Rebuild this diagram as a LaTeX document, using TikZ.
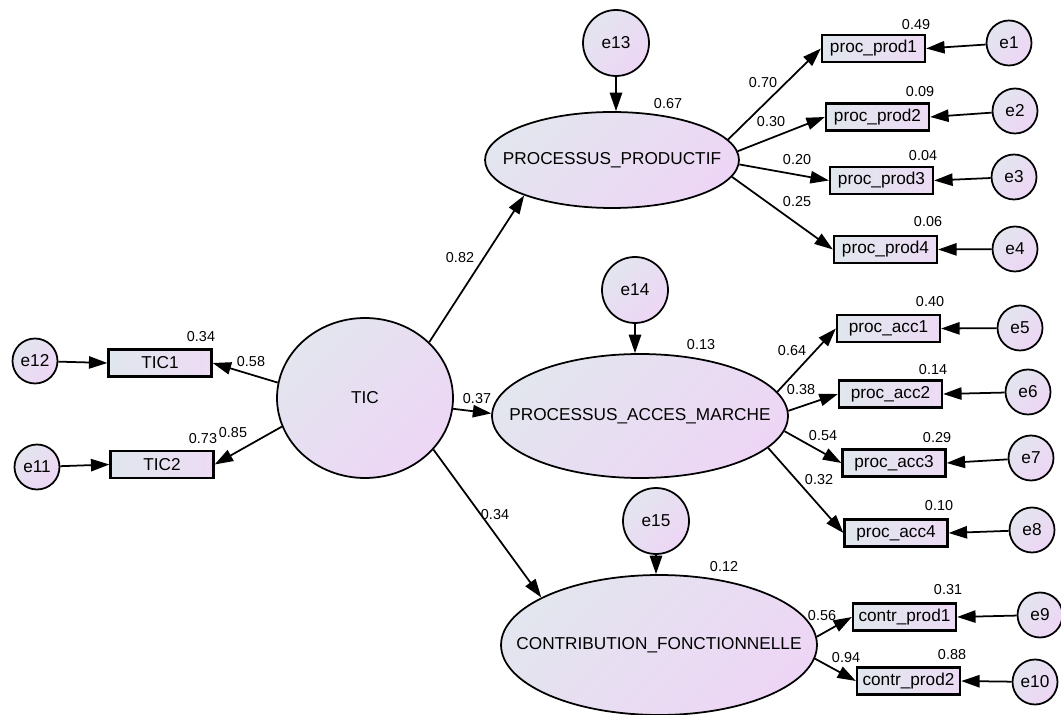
\documentclass[tikz,border=0pt]{standalone}
\usepackage{fontspec}
\setmainfont{Liberation Sans}
\usetikzlibrary{arrows.meta,shapes.geometric,positioning}
\definecolor{fillL}{RGB}{227,229,239}
\definecolor{fillR}{RGB}{237,214,245}
\definecolor{boxL}{RGB}{224,231,237}
\definecolor{boxR}{RGB}{237,219,244}
\def\txtsize{\fontsize{9.8}{11}\selectfont}
\def\coefsize{\fontsize{8.2}{9}\selectfont}
\tikzset{
  latent/.style={ellipse, draw, inner sep=0pt, left color=fillL, right color=fillR, shading angle=45},
  err/.style={circle, draw, inner sep=0pt, minimum size=0.9cm, left color=fillL, right color=fillR, shading angle=45, font=\txtsize},
  bigerr/.style={err, minimum size=1.32cm},
  obs/.style={rectangle, draw, line width=1.3pt, inner sep=0pt, minimum width=2.06cm, minimum height=0.54cm, left color=boxL, right color=boxR, font=\txtsize},
  coef/.style={inner sep=0pt, font=\coefsize},
}

\begin{document}
\begin{tikzpicture}[x=0.02cm, y=-0.02cm, line width=1pt, >={Triangle[length=10.5pt,width=7pt]}]
    \useasboundingbox (0,0) rectangle (1061,715);
    % Latent variables
    \node[latent, minimum width=3.52cm, minimum height=3.2cm, label={[name=tictxt, font=\txtsize]center:TIC}] (tic) at (365,398) {};
    \node[latent, minimum width=5.08cm, minimum height=1.92cm, label={[name=prodtxt, font=\txtsize]center:PROCESSUS\_PRODUCTIF}] (prod) at (612,160) {};
    \node[latent, minimum width=5.92cm, minimum height=2.48cm, label={[name=accestxt, font=\txtsize]center:PROCESSUS\_ACCES\_MARCHE}] (acces) at (640,416) {};
    \node[latent, minimum width=6.32cm, minimum height=2.8cm, label={[name=contrtxt, font=\txtsize]center:CONTRIBUTION\_FONCTIONNELLE}] (contr) at (659,645) {};
    % Disturbances
    \node[bigerr] (e13) at (616,43) {e13};
    \node[bigerr] (e14) at (635,290) {e14};
    \node[bigerr] (e15) at (656,521) {e15};
    \draw[->] (e13) -- (e13 |- prod.north);
    \draw[->] (e14) -- (e14 |- acces.north);
    \draw[->] (e15) -- (e15 |- contr.north);
    % Structural paths
    \draw[->] (tic.41) -- (prod.202);
    \draw[->] (tic.-7) -- (acces.179);
    \draw[->] (tic.-37) -- (contr.158);
    % Indicators of TIC
    \node[obs] (tic1) at (160,363) {TIC1};
    \node[obs] (tic2) at (162,464.5) {TIC2};
    \node[err] (e12) at (35,361) {e12};
    \node[err] (e11) at (37,467) {e11};
    \draw[->] (e12) -- (tic1.west);
    \draw[->] (e11) -- (tic2.west);
    \draw[->] (tic.170) -- (tic1.east);
    \draw[->] (tic.199) -- (tic2.east);
    % Indicators of PROCESSUS_PRODUCTIF
    \foreach \i/\bx/\by/\ex/\ey/\a in {1/873.5/48.5/1009/43/10, 2/877.5/117/1015/111/4, 3/881.5/180.5/1014/177/-2, 4/885.5/249.5/1015/249/-8}{
      \node[obs] (pp\i) at (\bx,\by) {proc\_prod\i};
      \node[err] (e\i) at (\ex,\ey) {e\i};
      \draw[->] (e\i) -- (pp\i.east);
      \draw[->] (prod.\a) -- (pp\i.west);
    }
    % Indicators of PROCESSUS_ACCES_MARCHE
    \foreach \i/\e/\bx/\by/\ex/\ey/\a in {1/5/888.5/328.5/1020/328/10, 2/6/890.5/394/1028/392/2, 3/7/894/463/1031/458/-6, 4/8/896/533/1032/530/-14}{
      \node[obs] (pa\i) at (\bx,\by) {proc\_acc\i};
      \node[err] (e\e) at (\ex,\ey) {e\e};
      \draw[->] (e\e) -- (pa\i.east);
      \draw[->] (acces.\a) -- (pa\i.west);
    }
    % Indicators of CONTRIBUTION_FONCTIONNELLE
    \foreach \i/\e/\bx/\by/\ex/\ey/\a in {1/9/904.5/617/1040/615/3, 2/10/908.5/681/1035/682/-5}{
      \node[obs] (cp\i) at (\bx,\by) {contr\_prod\i};
      \node[err] (e\e) at (\ex,\ey) {e\e};
      \draw[->] (e\e) -- (cp\i.east);
      \draw[->] (contr.\a) -- (cp\i.west);
    }
    % Estimates
    \foreach \v/\x/\y [count=\k] in {0.82/460/258, 0.37/477/399, 0.34/495/515,
        0.34/201/337, 0.58/251/362, 0.73/203/439, 0.85/233/433,
        0.67/668/104, 0.13/701/345, 0.12/724/567,
        0.70/763/83, 0.30/771/122, 0.20/797/160, 0.25/797/202,
        0.49/916/25, 0.09/920/92, 0.04/923/156, 0.06/928/222,
        0.64/792/351, 0.38/801/390, 0.54/823/436, 0.32/819/480,
        0.40/930/302, 0.14/933/370, 0.29/937/438, 0.10/939/506,
        0.56/822/616, 0.94/846/658, 0.31/948/590, 0.88/952/655}
      \node[coef] (est\k) at (\x,\y) {\v};
\end{tikzpicture}
\end{document}
